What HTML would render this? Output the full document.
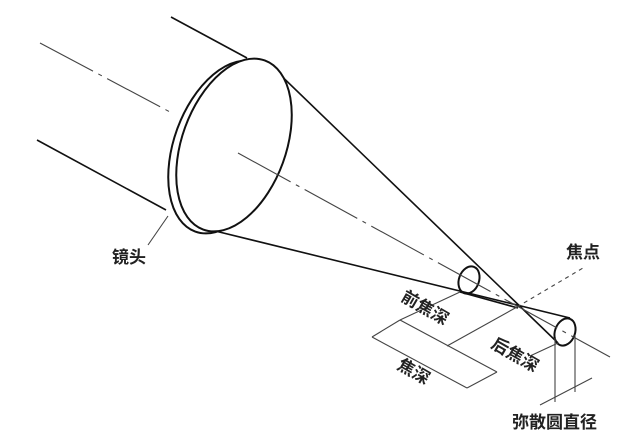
<!DOCTYPE html><html><head><meta charset="utf-8"><style>html,body{margin:0;padding:0;background:#fff}svg{display:block}text{font-family:"Liberation Sans","Noto Sans CJK SC",sans-serif;font-size:17px;font-weight:bold;fill:#222}</style></head><body>
<svg width="633" height="440" viewBox="0 0 633 440" xmlns="http://www.w3.org/2000/svg">
<g stroke="#111" fill="none" stroke-width="1.6">
<line x1="171" y1="17" x2="247" y2="58"/>
<line x1="37" y1="140" x2="166" y2="210"/>
<line x1="268" y1="63" x2="558" y2="343"/>
<line x1="203" y1="228" x2="570" y2="318"/>
<line x1="460" y1="292" x2="518" y2="308"/>
<ellipse cx="226" cy="147" rx="52" ry="90" transform="rotate(20 226 147)" stroke-width="2"/>
<ellipse cx="234" cy="145" rx="52" ry="90" transform="rotate(20 234 145)" fill="#fff" stroke-width="2"/>
<ellipse cx="469" cy="280" rx="10" ry="14" transform="rotate(20 469 280)" stroke-width="2"/>
<ellipse cx="565" cy="332" rx="10" ry="14" transform="rotate(20 565 332)" stroke-width="2"/>
</g>
<g stroke="#444" fill="none" stroke-width="1.1">
<polyline points="40,43 170,112" stroke-dasharray="60,6,4,6"/>
<line x1="238" y1="153" x2="610" y2="357" stroke-dasharray="60,6,4,6"/>
<line x1="517" y1="307" x2="583" y2="268" stroke-dasharray="4,4"/>
<line x1="517" y1="307" x2="447" y2="346"/>
<line x1="460" y1="292" x2="400" y2="320"/>
<line x1="400" y1="320" x2="497" y2="372"/>
<line x1="372" y1="337" x2="467" y2="388"/>
<line x1="372" y1="337" x2="400" y2="320"/>
<line x1="467" y1="388" x2="497" y2="372"/>
<line x1="558" y1="343" x2="530" y2="356"/>
<line x1="555" y1="338" x2="555" y2="402"/>
<line x1="575" y1="335" x2="575" y2="392"/>
<line x1="540" y1="405" x2="592" y2="378"/>
<line x1="148" y1="245" x2="168" y2="216"/>
</g>
<text x="112" y="263">镜头</text>
<text x="566" y="258">焦点</text>
<text x="512" y="428" font-size="18">弥散圆直径</text>
<text transform="translate(400,300) rotate(30)">前焦深</text>
<text transform="translate(490,347) rotate(30)">后焦深</text>
<text transform="translate(396,368) rotate(30)">焦深</text>
</svg></body></html>
